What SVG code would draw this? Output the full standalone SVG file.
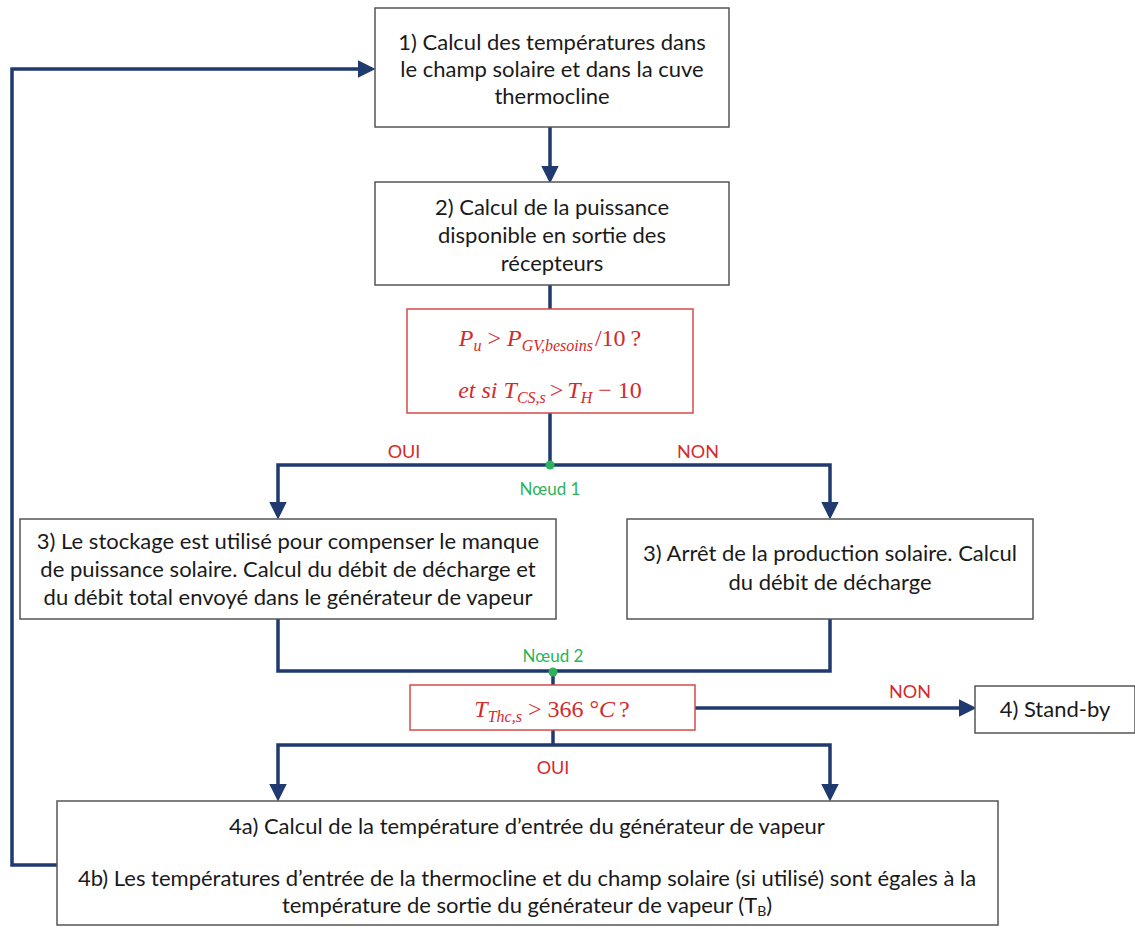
<svg xmlns="http://www.w3.org/2000/svg" width="1135" height="929" viewBox="0 0 1135 929">
<defs>
<style>
.box{fill:#fff;stroke:#555;stroke-width:1.5}
.rbox{fill:#fff;stroke:#d94a4a;stroke-width:1.5}
.t{font-family:Lato,"Open Sans",sans-serif;font-size:22px;fill:#1a1a1a;text-anchor:middle}
.m{font-family:"Liberation Serif",serif;font-style:italic;font-size:24px;fill:#d42a2a;text-anchor:middle}
.mn{font-style:normal}
.sub{font-size:16px}
.lbl{font-family:Lato,"Open Sans",sans-serif;font-size:18px;fill:#d42a2a;text-anchor:middle}
.g{font-family:Lato,"Open Sans",sans-serif;font-size:17px;fill:#2db35a;text-anchor:middle}
.c{fill:none;stroke:#1f3a6e;stroke-width:3.5}
</style>
<marker id="ah" markerWidth="5" markerHeight="5" refX="4" refY="2.5" orient="auto" markerUnits="strokeWidth">
<path d="M0,0 L5,2.5 L0,5 z" fill="#1f3a6e"/>
</marker>
</defs>
<g id="connectors">
<path class="c" d="M550,127 V180" marker-end="url(#ah)"/>
<path class="c" d="M550,285 V309"/>
<path class="c" d="M550,413 V465"/>
<path class="c" d="M550,465 H278 V516" marker-end="url(#ah)"/>
<path class="c" d="M550,465 H830 V516" marker-end="url(#ah)"/>
<path class="c" d="M278,619 V671 H830 V619"/>
<path class="c" d="M553,671 V685"/>
<path class="c" d="M695,708 H973" marker-end="url(#ah)"/>
<path class="c" d="M553,730 V745"/>
<path class="c" d="M553,745 H278 V798" marker-end="url(#ah)"/>
<path class="c" d="M553,745 H830 V798" marker-end="url(#ah)"/>
<path class="c" d="M57,865 H12 V69 H372" marker-end="url(#ah)"/>
<circle cx="550" cy="465" r="4.5" fill="#2db35a"/>
<circle cx="553" cy="672" r="4.5" fill="#2db35a"/>
<text class="lbl" x="404" y="458">OUI</text>
<text class="lbl" x="698" y="458">NON</text>
<text class="g" x="550" y="495">Nœud 1</text>
<text class="g" x="553" y="662">Nœud 2</text>
<text class="lbl" x="910" y="698">NON</text>
<text class="lbl" x="553" y="774">OUI</text>
</g>
<g id="n1">
<rect class="box" x="375" y="8" width="354" height="119"/>
<text class="t" x="552" y="50">1) Calcul des températures dans</text>
<text class="t" x="552" y="77">le champ solaire et dans la cuve</text>
<text class="t" x="552" y="104">thermocline</text>
</g>
<g id="n2">
<rect class="box" x="375" y="182" width="354" height="103"/>
<text class="t" x="552" y="215">2) Calcul de la puissance</text>
<text class="t" x="552" y="243">disponible en sortie des</text>
<text class="t" x="552" y="271">récepteurs</text>
</g>
<g id="d1">
<rect class="rbox" x="407" y="309" width="286" height="104"/>
<text class="m" x="550" y="346">P<tspan class="sub" dy="5">u</tspan><tspan class="mn" dy="-5" dx="6">&gt;</tspan><tspan dx="6">P</tspan><tspan class="sub" dy="5">GV,besoins</tspan><tspan class="mn" dy="-5" dx="2">/10</tspan><tspan class="mn" dx="5">?</tspan></text>
<text class="m" x="550" y="398">et si T<tspan class="sub" dy="5">CS,s</tspan><tspan class="mn" dy="-5" dx="4">&gt;</tspan><tspan dx="4">T</tspan><tspan class="sub" dy="5">H</tspan><tspan class="mn" dy="-5"> − 10</tspan></text>
</g>
<g id="n3a">
<rect class="box" x="20" y="519" width="536" height="100"/>
<text class="t" x="288" y="549">3) Le stockage est utilisé pour compenser le manque</text>
<text class="t" x="288" y="577">de puissance solaire. Calcul du débit de décharge et</text>
<text class="t" x="288" y="605">du débit total envoyé dans le générateur de vapeur</text>
</g>
<g id="n3b">
<rect class="box" x="627" y="519" width="406" height="100"/>
<text class="t" x="830" y="561">3) Arrêt de la production solaire. Calcul</text>
<text class="t" x="830" y="590">du débit de décharge</text>
</g>
<g id="d2">
<rect class="rbox" x="410" y="685" width="285" height="45"/>
<text class="m" x="552" y="717">T<tspan class="sub" dy="5">Thc,s</tspan><tspan class="mn" dy="-5" dx="6">&gt;</tspan><tspan class="mn" dx="6">366 °</tspan>C<tspan class="mn" dx="4">?</tspan></text>
</g>
<g id="n4">
<rect class="box" x="975" y="686" width="160" height="47"/>
<text class="t" x="1055" y="717">4) Stand-by</text>
</g>
<g id="n4ab">
<rect class="box" x="57" y="801" width="941" height="124"/>
<text class="t" x="527" y="834">4a) Calcul de la température d’entrée du générateur de vapeur</text>
<text class="t" x="527" y="886">4b) Les températures d’entrée de la thermocline et du champ solaire (si utilisé) sont égales à la</text>
<text class="t" x="527" y="913">température de sortie du générateur de vapeur (T<tspan font-size="14" dy="3">B</tspan><tspan dy="-3">)</tspan></text>
</g>
</svg>
